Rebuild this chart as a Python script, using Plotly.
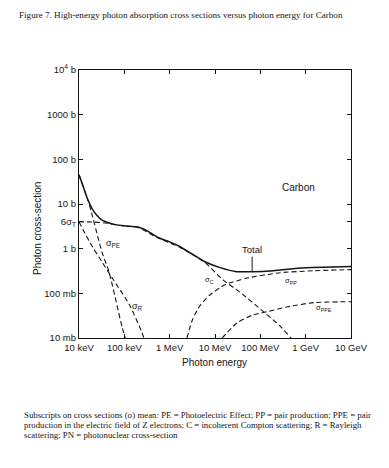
import math
import plotly.graph_objects as go

# ---- data (energy in MeV, cross-section in barn) ----
total_E = [0.01, 0.0125, 0.015, 0.02, 0.025, 0.03, 0.04, 0.06, 0.1, 0.2, 0.3, 0.54, 1.0, 1.67, 3, 6, 13, 28, 66, 195, 775, 10000]
total_s = [45, 24, 14, 7.5, 5.5, 4.6, 3.95, 3.5, 3.25, 3.05, 2.6, 1.8, 1.42, 1.12, 0.78, 0.51, 0.376, 0.31, 0.305, 0.32, 0.37, 0.40]

pe_E = [0.01, 0.0167, 0.032, 0.046, 0.09, 0.105]
pe_s = [45, 10, 0.85, 0.30, 0.017, 0.01]

r_E = [0.01, 0.0175, 0.032, 0.054, 0.129, 0.24, 0.27]
r_s = [3.99, 1.36, 0.51, 0.22, 0.056, 0.014, 0.01]

c_E = [0.01, 0.02, 0.04, 0.066, 0.1, 0.2, 0.54, 1.67, 6, 15, 36, 117, 280, 465, 520]
c_s = [3.99, 3.95, 3.75, 3.4, 3.2, 3.0, 1.75, 1.08, 0.49, 0.20, 0.105, 0.039, 0.018, 0.0102, 0.009]

pp_E = [2.4, 3.2, 4.6, 7.8, 16.5, 51, 280, 1500, 10000]
pp_s = [0.01, 0.026, 0.052, 0.093, 0.155, 0.22, 0.29, 0.32, 0.34]

ppe_E = [14.4, 31, 70, 143, 400, 1500, 10000]
ppe_s = [0.01, 0.022, 0.033, 0.039, 0.05, 0.062, 0.065]

x_tickvals = [0.01, 0.1, 1, 10, 100, 1000, 10000]
x_ticktext = ["10 keV", "100 keV", "1 MeV", "10 MeV", "100 MeV", "1 GeV", "10 GeV"]
y_tickvals = [1e4, 1000, 100, 10, 3.99, 1, 0.1, 0.01]
y_ticktext = ["10<sup>4</sup> b", "1000 b", "100 b", "10 b", "6σ<sub>T</sub>", "1 b", "100 mb", "10 mb"]

INK = "#151515"
sans = "Liberation Sans, Arial, sans-serif"
serif = "Liberation Serif, Times New Roman, serif"

fig = go.Figure()

def add(xs, ys, dash, width):
    fig.add_trace(go.Scatter(x=xs, y=ys, mode="lines",
                             line=dict(color=INK, width=width, dash=dash, shape="spline", smoothing=0.6),
                             showlegend=False, hoverinfo="skip"))

DASH = "5px,3px"
add(c_E, c_s, DASH, 1.1)
add(pe_E, pe_s, DASH, 1.1)
add(r_E, r_s, DASH, 1.1)
add(pp_E, pp_s, DASH, 1.1)
add(ppe_E, ppe_s, DASH, 1.1)
add(total_E, total_s, "solid", 1.5)

fig.update_xaxes(type="log", range=[-2, 4], tickvals=x_tickvals, ticktext=x_ticktext,
                 ticks="inside", ticklen=4, tickcolor=INK, showline=True, linecolor=INK,
                 linewidth=1.2, mirror="ticks", showgrid=False, zeroline=False,
                 tickfont=dict(family=sans, size=9.5, color=INK))
fig.update_yaxes(type="log", range=[-2, 4], tickvals=y_tickvals, ticktext=y_ticktext,
                 ticks="inside", ticklen=4, tickcolor=INK, showline=True, linecolor=INK,
                 linewidth=1.2, mirror="ticks", showgrid=False, zeroline=False,
                 tickfont=dict(family=sans, size=9.5, color=INK))

L, R, T, B = 79, 38, 70, 130
W, H = 389, 468
pw, ph = W - L - R, H - T - B

def px(fx, fy):
    """figure pixel -> plot-area paper coords"""
    return (fx - L) / pw, 1 - (fy - T) / ph

ann = []
def lab(x, y, text, size=8, font=sans):
    ann.append(dict(x=math.log10(x), y=math.log10(y), xref="x", yref="y", text=text, showarrow=False,
                    font=dict(family=font, size=size, color=INK)))

lab(690, 24, "Carbon", size=10)
lab(0.056, 1.3, "σ<sub>PE</sub>", size=9)
lab(0.2, 0.05, "σ<sub>R</sub>", size=9)
lab(7.5, 0.2, "σ<sub>C</sub>", size=7.5)
lab(465, 0.19, "σ<sub>PP</sub>", size=7.5)
lab(2500, 0.047, "σ<sub>PPE</sub>", size=7.5)

ann.append(dict(x=math.log10(66), y=math.log10(0.305), xref="x", yref="y", text="Total",
                showarrow=True, arrowhead=0, arrowwidth=1, arrowcolor=INK, ax=0, ay=-22,
                font=dict(family=sans, size=9.5, color=INK)))

x0, y0 = px(214, 362)
ann.append(dict(x=x0, y=y0, xref="paper", yref="paper", xanchor="center", yanchor="middle",
                text="Photon energy", showarrow=False, font=dict(family=sans, size=10, color=INK)))
x0, y0 = px(37, 229)
ann.append(dict(x=x0, y=y0, xref="paper", yref="paper", xanchor="center", yanchor="middle",
                text="Photon cross-section", textangle=-90, showarrow=False,
                font=dict(family=sans, size=10, color=INK)))

x0, y0 = px(17, 15)
ann.append(dict(x=x0, y=y0, xref="paper", yref="paper", xanchor="left", yanchor="middle",
                text="Figure 7. High-energy photon absorption cross sections versus photon energy for Carbon",
                showarrow=False, font=dict(family=serif, size=9.1, color=INK)))

caption = [
    "Subscripts on cross sections (σ) mean: PE = Photoelectric Effect; PP = pair production; PPE = pair",
    "production in the electric field of Z electrons; C = incoherent Compton scattering; R = Rayleigh",
    "scattering; PN = photonuclear cross-section",
]
for i, line in enumerate(caption):
    x0, y0 = px(22, 415 + 10 * i)
    ann.append(dict(x=x0, y=y0, xref="paper", yref="paper",
                    xanchor="left", yanchor="middle", text=line, showarrow=False,
                    font=dict(family=serif, size=8.8, color=INK)))

fig.update_layout(width=W, height=H, margin=dict(l=L, r=R, t=T, b=B),
                  paper_bgcolor="white", plot_bgcolor="white", annotations=ann)

fig.write_html("out.html", config={"displayModeBar": False},
               post_script="document.body.style.margin='0';")
